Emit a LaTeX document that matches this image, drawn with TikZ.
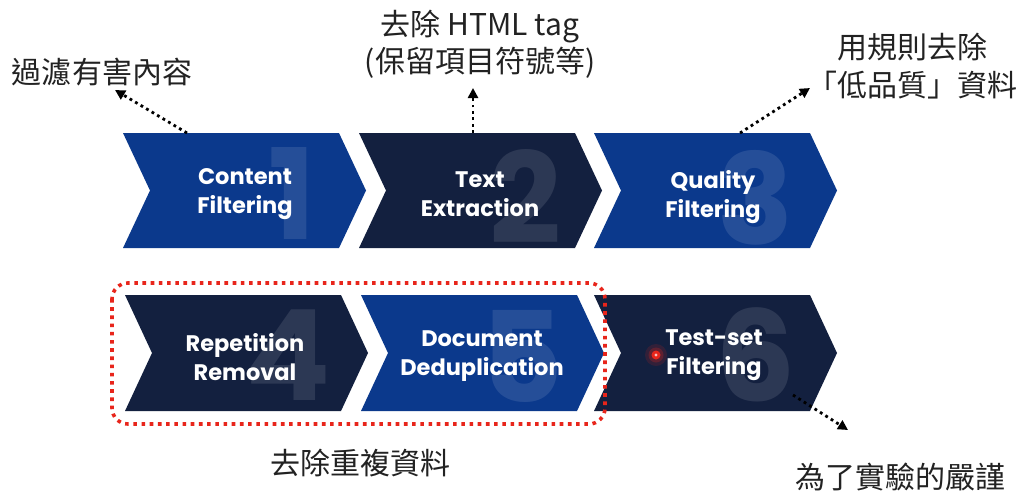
\documentclass[tikz,border=0pt]{standalone}
\usepackage{fontspec}
\setmainfont{Poppins}
\newfontfamily\cjk{Noto Sans CJK TC}
\usetikzlibrary{arrows.meta}
\definecolor{cblue}{HTML}{0B398C}
\definecolor{cnavy}{HTML}{13203F}
\definecolor{cred}{HTML}{E8251B}
\definecolor{ctext}{HTML}{222222}
\tikzset{
  numlbl/.style={font=\fontsize{126}{126}\selectfont\bfseries, text=white, text opacity=0.11, inner sep=0},
  steplbl/.style={font=\fontsize{22.5}{29}\selectfont\bfseries, text=white, align=center, inner sep=0},
  note/.style={font=\cjk\fontsize{30}{37.5}\selectfont, text=ctext, align=center, inner sep=0},
  ptr/.style={line width=2.8pt, dash pattern=on 2.8pt off 3.6pt, -{Triangle[length=10pt,width=10pt]}},
  groupbox/.style={draw=cred, line width=3.6pt, dash pattern=on 3.6pt off 4.6pt, rounded corners=16pt},
}
\newcommand\chevronshape[4]{% left, top, bottom, colour
  \fill[#4] (#1,#2) -- (#1+216,#2) -- (#1+243,{(#2+#3)/2}) -- (#1+216,#3) -- (#1,#3) -- (#1+27,{(#2+#3)/2}) -- cycle;
}
\begin{document}
\begin{tikzpicture}[x=1pt,y=-1pt]
\useasboundingbox[fill=white] (0,0) rectangle (1024,501);

% row 1
\chevronshape{123}{133}{248}{cblue}
\chevronshape{359}{133}{248}{cnavy}
\chevronshape{594}{133}{248}{cblue}
% row 2
\chevronshape{125}{295}{411}{cnavy}
\chevronshape{361}{295}{411}{cblue}
\chevronshape{594}{295}{411}{cnavy}

% big numbers
\node[numlbl] (k1) at (292,194) {1};
\node[numlbl] (k2) at (525,196) {2};
\node[numlbl] (k3) at (756,198) {3};
\node[numlbl] (k4) at (288,355) {4};
\node[numlbl] (k5) at (522,356) {5};
\node[numlbl] (k6) at (756,355) {6};

% step labels
\node[steplbl] (s1) at (245,194) {Content\\Filtering};
\node[steplbl] (s2) at (480,194) {Text\\Extraction};
\node[steplbl] (s3) at (713,197) {Quality\\Filtering};
\node[steplbl] (s4) at (245,357) {Repetition\\Removal};
\node[steplbl] (s5) at (482,356) {Document\\Deduplication};
\node[steplbl] (s6) at (714,355) {Test-set\\Filtering};

% group box
\draw[groupbox] (112,283) rectangle (605,424);

% laser pointer dot
\fill[cred, opacity=0.15] (656,355) circle (11);
\fill[cred, opacity=0.25] (656,355) circle (7.5);
\fill[cred] (656,355) circle (4.5);
\fill[white, opacity=0.7] (656,355) circle (1.6);

% notes
\node[note] (n1) at (102,72) {過濾有害內容};
\node[note] (n2) at (480,44) {去除 HTML tag\\(保留項目符號等)};
\node[note] (n3) at (912,66) {用規則去除\\「低品質」資料};
\node[note] (n4) at (360,463) {去除重複資料};
\node[note] (n6) at (900,477) {為了實驗的嚴謹};

% pointer coordinates
\coordinate (p1s) at (187,133);
\coordinate (p1e) at (115,90);
\coordinate (p2s) at (473,133);
\coordinate (p2e) at (473,88);
\coordinate (p3s) at (740,133);
\coordinate (p3e) at (810,88);
\coordinate (p6s) at (793,395);
\coordinate (p6e) at (848,430);

\draw[ptr] (p1s) -- (p1e);
\draw[ptr] (p2s) -- (p2e);
\draw[ptr] (p3s) -- (p3e);
\draw[ptr] (p6s) -- (p6e);
\end{tikzpicture}
\end{document}
